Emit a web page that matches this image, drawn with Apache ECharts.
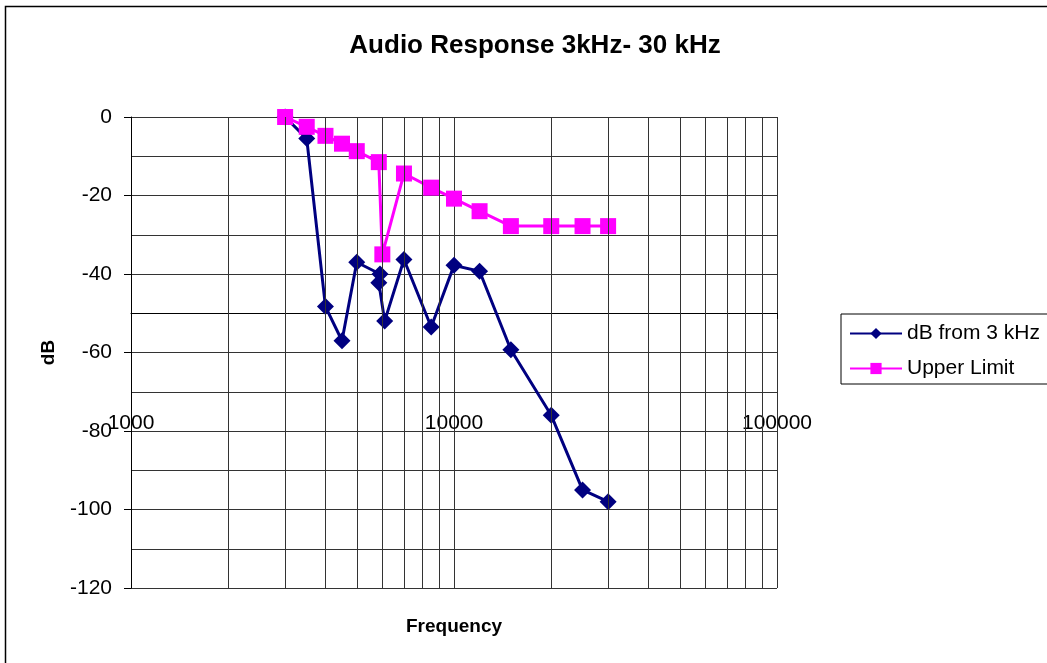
<!DOCTYPE html>
<html>
<head>
<meta charset="utf-8">
<title>Audio Response 3kHz- 30 kHz</title>
<script src="https://cdn.jsdelivr.net/npm/echarts@6/dist/echarts.min.js"></script>
<style>
  html, body { margin: 0; padding: 0; background: #fff; }
  #chart { width: 1047px; height: 663px; }
</style>
</head>
<body>
<div id="chart"></div>
<script>
// measured response, dB relative to 3 kHz
const respFreq = [3000, 3500, 4000, 4500, 5000, 5900, 5850, 6100, 7000, 8500, 10000, 12000, 15000, 20000, 25000, 30000]
const respDb = [0, -5.5, -48.3, -57, -37, -40, -42.2, -52, -36.3, -53.5, -37.8, -39.3, -59.3, -76, -95, -98]

// upper limit mask
const limitFreq = [3000, 3500, 4000, 4500, 5000, 5850, 6000, 7000, 8500, 10000, 12000, 15000, 20000, 25000, 30000]
const limitDb = [0, -2.5, -4.8, -6.8, -8.7, -11.5, -35, -14.4, -18, -20.8, -24, -27.8, -27.8, -27.8, -27.8]

// minor vertical gridlines of the log axis (2..9 per decade)
const minorFreqs = [2000, 3000, 4000, 5000, 6000, 7000, 8000, 9000,
  20000, 30000, 40000, 50000, 60000, 70000, 80000, 90000]

const FONT = 'Liberation Sans, Arial, sans-serif'
const GRID = '#333'

const chart = echarts.init(document.getElementById('chart'))

const pairs = (xs, ys) => xs.map((x, i) => [x, ys[i]])

chart.setOption({
  animation: false,
  backgroundColor: '#fff',
  textStyle: { fontFamily: FONT, color: '#000' },
  title: {
    text: 'Audio Response 3kHz- 30 kHz',
    left: 535,
    top: 33,
    padding: 0,
    textAlign: 'center',
    textStyle: { fontFamily: FONT, fontSize: 26, fontWeight: 'bold', color: '#000' }
  },
  graphic: [{
    type: 'rect',
    silent: true,
    shape: { x: 5.5, y: 6.5, width: 1100, height: 700 },
    style: { fill: 'none', stroke: '#000', lineWidth: 1.5 }
  }],
  legend: {
    orient: 'vertical',
    left: 841,
    top: 314,
    padding: [9, 20, 5, 8],
    itemWidth: 52,
    itemHeight: 14,
    itemGap: 14,
    borderColor: '#000',
    borderWidth: 1,
    textStyle: { fontFamily: FONT, fontSize: 21, color: '#000' },
    data: ['dB from 3 kHz', 'Upper Limit']
  },
  grid: { left: 131, top: 117, width: 646, height: 471 },
  xAxis: {
    type: 'log',
    logBase: 10,
    min: 1000,
    max: 100000,
    splitNumber: 2,
    offset: -196,
    name: 'Frequency',
    nameLocation: 'middle',
    nameGap: 225,
    nameTextStyle: { fontFamily: FONT, fontSize: 19, fontWeight: 'bold', color: '#000' },
    axisLine: { lineStyle: { color: '#000', width: 1 } },
    axisTick: { show: true, length: 6, lineStyle: { color: '#000' } },
    axisLabel: {
      margin: 21,
      fontFamily: FONT,
      fontSize: 21,
      color: '#000',
      formatter: v => String(Math.round(v))
    },
    splitLine: { show: true, lineStyle: { color: GRID, width: 1 } }
  },
  yAxis: {
    type: 'value',
    min: -120,
    max: 0,
    interval: 20,
    name: 'dB',
    nameLocation: 'middle',
    nameGap: 73,
    nameTextStyle: { fontFamily: FONT, fontSize: 19, fontWeight: 'bold', color: '#000' },
    axisLine: { show: true, lineStyle: { color: '#000', width: 1 } },
    axisTick: { show: true, length: 7, lineStyle: { color: '#000' } },
    axisLabel: { margin: 19, fontFamily: FONT, fontSize: 21, color: '#000' },
    splitLine: { show: true, lineStyle: { color: GRID, width: 1 } },
    minorTick: { show: false, splitNumber: 2 },
    minorSplitLine: { show: true, lineStyle: { color: GRID, width: 1 } }
  },
  series: [
    {
      // carries only the minor log gridlines
      type: 'line',
      data: [],
      silent: true,
      z: 1,
      markLine: {
        silent: true,
        symbol: 'none',
        label: { show: false },
        lineStyle: { color: GRID, width: 1, type: 'solid' },
        data: minorFreqs.map(f => ({ xAxis: f }))
      }
    },
    {
      name: 'dB from 3 kHz',
      type: 'line',
      z: 3,
      data: pairs(respFreq, respDb),
      symbol: 'diamond',
      symbolSize: 17,
      itemStyle: { color: '#000080' },
      lineStyle: { color: '#000080', width: 3 }
    },
    {
      name: 'Upper Limit',
      type: 'line',
      z: 4,
      data: pairs(limitFreq, limitDb),
      symbol: 'rect',
      symbolSize: 16,
      itemStyle: { color: '#ff00ff' },
      lineStyle: { color: '#ff00ff', width: 3 }
    }
  ]
})
</script>
</body>
</html>
